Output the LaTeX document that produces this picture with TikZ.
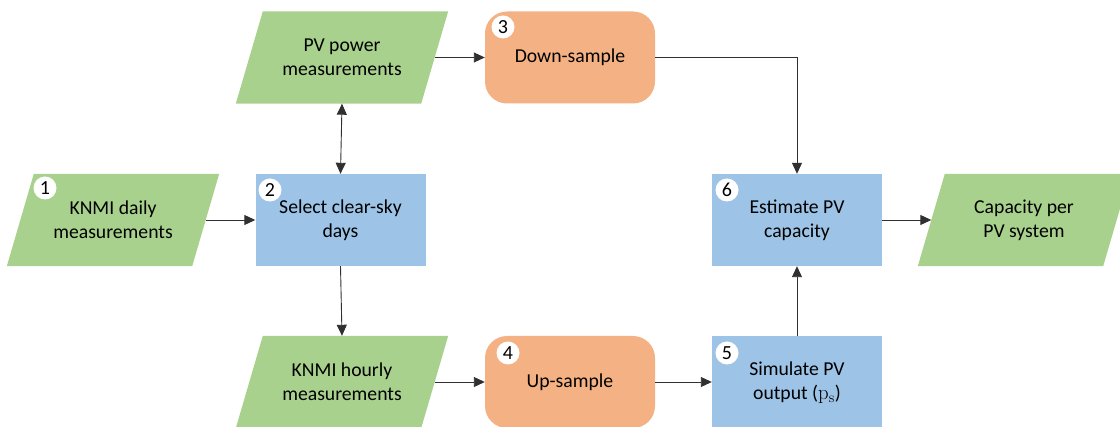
\documentclass[tikz,border=0pt]{standalone}
\usepackage[no-math]{fontspec}
\setmainfont{Carlito}
\usetikzlibrary{arrows.meta,backgrounds}
\definecolor{pgreen}{HTML}{A9D18E}
\definecolor{pblue}{HTML}{9DC3E6}
\definecolor{porange}{HTML}{F4B183}
\definecolor{lgray}{HTML}{303030}
\tikzset{
  txt/.style={font=\fontsize{19.7}{24}\selectfont, align=center, inner sep=0pt},
  bluebox/.style={txt, fill=pblue, minimum width=170pt, minimum height=92pt},
  orbox/.style={txt, fill=porange, rounded corners=22pt, minimum width=170pt, minimum height=92pt},
  parabox/.style={txt, minimum width=185pt, minimum height=92pt},
  numcirc/.style={circle, fill=white, minimum size=23pt, inner sep=0pt, font=\fontsize{20}{20}\selectfont},
  arr/.style={draw=lgray, line width=0.9pt, -{Triangle[length=11pt,width=10pt]}},
  darr/.style={draw=lgray, line width=0.9pt, {Triangle[length=11pt,width=10pt]}-{Triangle[length=11pt,width=10pt]}}
}
\begin{document}
\begin{tikzpicture}[x=1pt,y=-1pt]
\useasboundingbox (0,0) rectangle (1120,427);
% parallelogram text nodes
\node[parabox] (daily) at (113,220) {KNMI daily\\measurements};
\node[parabox] (pv) at (342,57.5) {PV power\\measurements};
\node[parabox] (hourly) at (342,382) {KNMI hourly\\measurements};
\node[parabox] (cap) at (1024,220) {Capacity per\\PV system};
\begin{scope}[on background layer]
\foreach \n in {daily,pv,hourly,cap}{
  \fill[pgreen] ([xshift=13.5pt]\n.north west) -- ([xshift=13.5pt]\n.north east)
     -- ([xshift=-13.5pt]\n.south east) -- ([xshift=-13.5pt]\n.south west) -- cycle;
}
\end{scope}
% process boxes
\node[bluebox] (sel) at (340.5,220) {Select clear-sky\\days};
\node[orbox] (down) at (570,57.5) {Down-sample};
\node[orbox] (up) at (570,382) {Up-sample};
\node[bluebox] (est) at (797,220) {Estimate PV\\capacity};
\node[bluebox] (sim) at (797,382.5) {Simulate PV\\output (\(\mathrm{p_s}\))};
% number circles
\node[numcirc] (c1) at (45,188) {1};
\node[numcirc] (c2) at (270,190) {2};
\node[numcirc] (c3) at (503,27) {3};
\node[numcirc] (c4) at (508,353) {4};
\node[numcirc] (c5) at (727,353) {5};
\node[numcirc] (c6) at (727,190) {6};
% connectors
\draw[arr] (daily.east) -- (sel.west);
\draw[arr] (pv.east) -- (down.west);
\draw[darr] (pv.south) -- (sel.north);
\draw[arr] (sel.south) -- (hourly.north);
\draw[arr] (down.east) -| (est.north);
\draw[arr] (hourly.east) -- (up.west);
\draw[arr] (up.east) -- (sim.west |- up.east);
\draw[arr] (sim.north) -- (est.south);
\draw[arr] (est.east) -- (cap.west);
\end{tikzpicture}
\end{document}
